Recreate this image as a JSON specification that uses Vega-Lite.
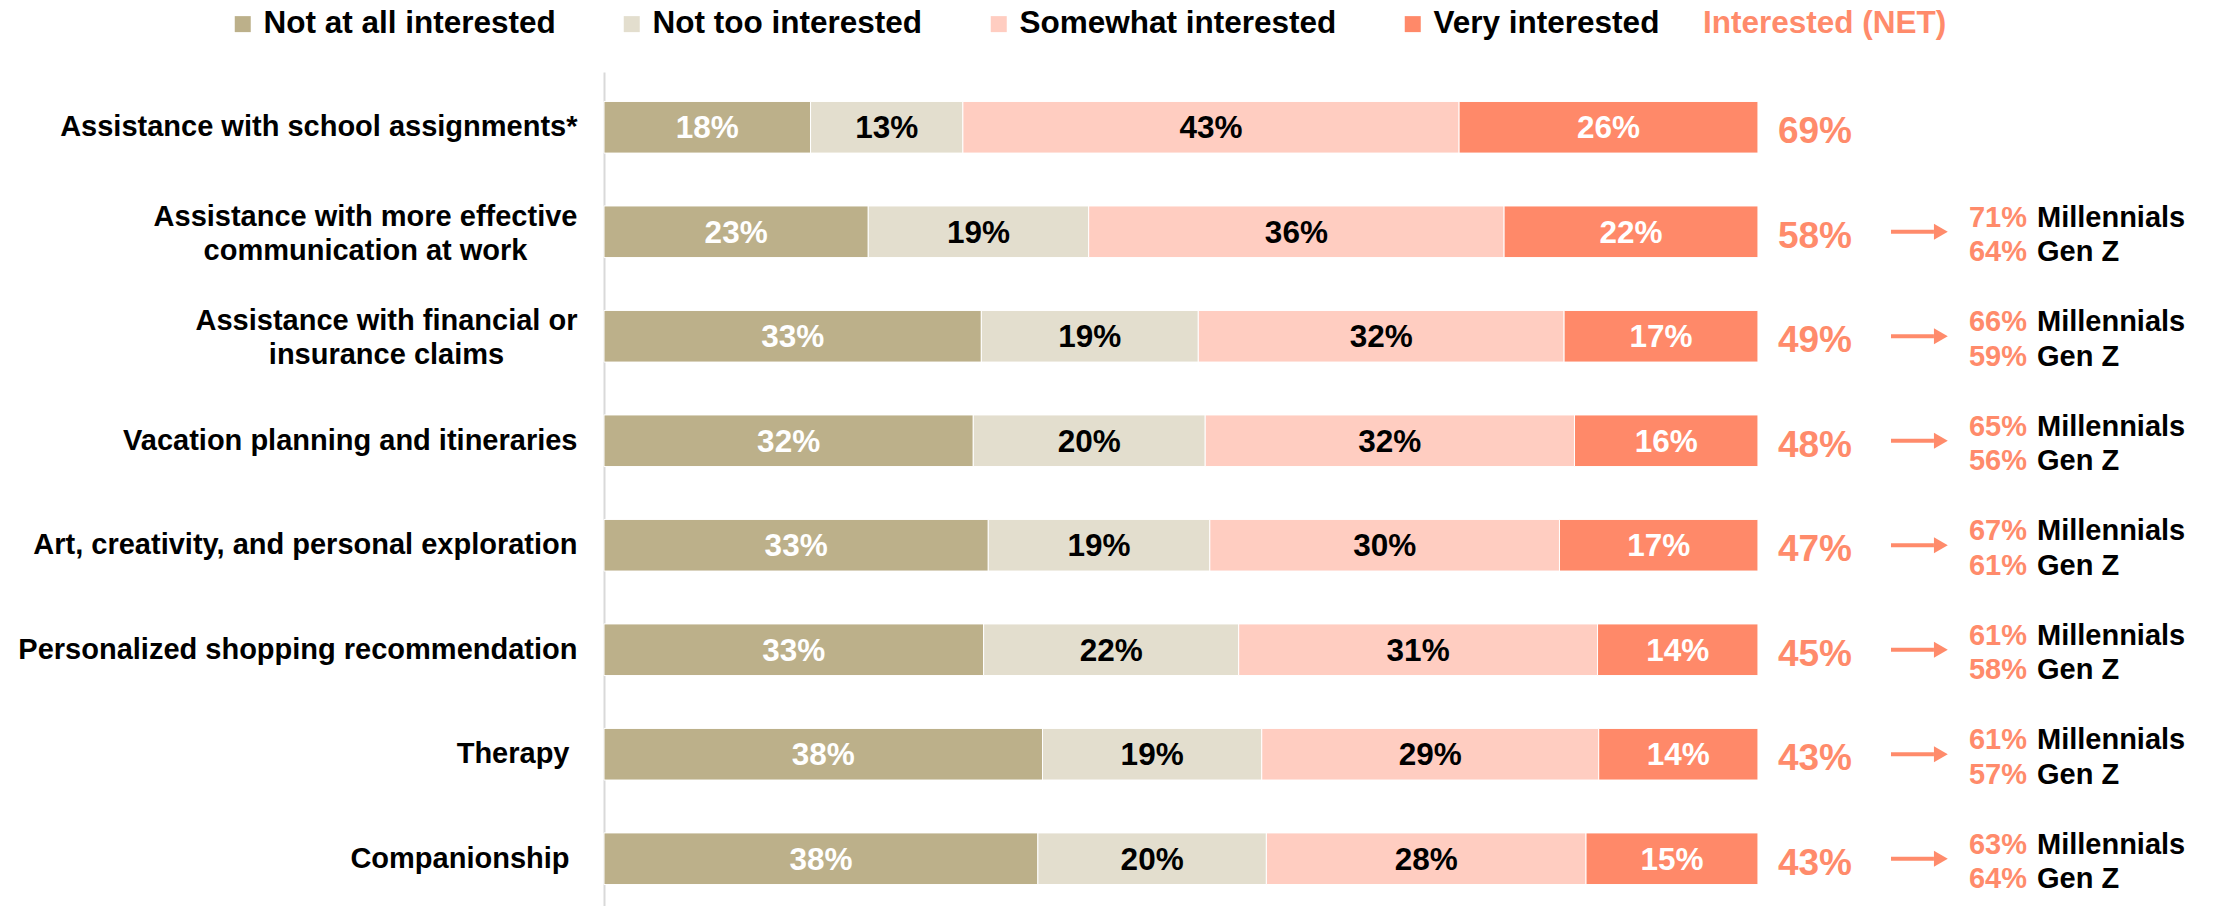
{
  "$schema": "https://vega.github.io/schema/vega-lite/v6.json",
  "width": 1613,
  "height": 842,
  "autosize": {"type": "none"},
  "padding": {"left": 604, "top": 72, "right": 0, "bottom": 0},
  "background": "white",
  "config": {"view": {"stroke": null}, "font": "Liberation Sans"},
  "data": {
    "values": [
      {"item": "Assistance with school assignments*", "Not at all interested": 0.179, "Not too interested": 0.132, "Somewhat interested": 0.43, "Very interested": 0.259, "net": 0.69, "mill": null, "genz": null},
      {"item": "Assistance with more effective|communication at work", "Not at all interested": 0.229, "Not too interested": 0.191, "Somewhat interested": 0.36, "Very interested": 0.22, "net": 0.58, "mill": 0.71, "genz": 0.64},
      {"item": "Assistance with financial or|insurance claims", "Not at all interested": 0.327, "Not too interested": 0.188, "Somewhat interested": 0.317, "Very interested": 0.168, "net": 0.49, "mill": 0.66, "genz": 0.59},
      {"item": "Vacation planning and itineraries", "Not at all interested": 0.32, "Not too interested": 0.201, "Somewhat interested": 0.32, "Very interested": 0.159, "net": 0.48, "mill": 0.65, "genz": 0.56},
      {"item": "Art, creativity, and personal exploration", "Not at all interested": 0.333, "Not too interested": 0.192, "Somewhat interested": 0.303, "Very interested": 0.172, "net": 0.47, "mill": 0.67, "genz": 0.61},
      {"item": "Personalized shopping recommendation", "Not at all interested": 0.329, "Not too interested": 0.221, "Somewhat interested": 0.311, "Very interested": 0.139, "net": 0.45, "mill": 0.61, "genz": 0.58},
      {"item": "Therapy", "Not at all interested": 0.38, "Not too interested": 0.19, "Somewhat interested": 0.292, "Very interested": 0.138, "net": 0.43, "mill": 0.61, "genz": 0.57},
      {"item": "Companionship", "Not at all interested": 0.376, "Not too interested": 0.198, "Somewhat interested": 0.277, "Very interested": 0.149, "net": 0.43, "mill": 0.63, "genz": 0.64}
    ]
  },
  "encoding": {
    "y": {
      "field": "item",
      "type": "nominal",
      "sort": null,
      "scale": {"paddingInner": 0.506, "paddingOuter": 0.282},
      "axis": {
        "title": null,
        "ticks": false,
        "domainColor": "#D9D9D9",
        "domainWidth": 2,
        "labelFont": "Liberation Sans",
        "labelFontSize": 29,
        "labelFontWeight": "bold",
        "labelColor": "black",
        "labelLimit": 0,
        "labelLineHeight": 34,
        "labelExpr": "split(datum.label, '|')",
        "labelAlign": {"condition": {"test": "indexof(datum.value, '|') >= 0", "value": "center"}, "value": "right"},
        "labelOffset": {"condition": {"test": "indexof(datum.value, '|') >= 0", "value": -15}, "value": 0},
        "labelPadding": {"condition": [
          {"test": "indexof(datum.value, 'effective') >= 0", "value": 239},
          {"test": "indexof(datum.value, 'financial') >= 0", "value": 218},
          {"test": "datum.value === 'Therapy' || datum.value === 'Companionship'", "value": 35}
        ], "value": 27}
      }
    }
  },
  "layer": [
    {
      "transform": [
        {"fold": ["Not at all interested", "Not too interested", "Somewhat interested", "Very interested"], "as": ["level", "value"]},
        {"stack": "value", "groupby": ["item"], "sort": [{"field": "level", "order": "ascending"}], "as": ["x0", "x1"]}
      ],
      "mark": {"type": "bar", "stroke": "white", "strokeWidth": 1},
      "encoding": {
        "x": {"field": "x0", "type": "quantitative", "scale": {"domain": [0, 1.3978], "nice": false, "zero": true}, "axis": null},
        "x2": {"field": "x1"},
        "color": {
          "field": "level",
          "type": "nominal",
          "scale": {"domain": ["Not at all interested", "Not too interested", "Somewhat interested", "Very interested"], "range": ["#BCB08A", "#E3DECE", "#FFCDC1", "#FF8969"]},
          "legend": {
            "orient": "none",
            "legendX": -377,
            "legendY": -64,
            "direction": "horizontal",
            "title": "Interested (NET)",
            "titleOrient": "right",
            "titleColor": "#FF8B6B",
            "titleFont": "Liberation Sans",
            "titleFontSize": 31.5,
            "titleFontWeight": "bold",
            "titlePadding": 44,
            "titleLimit": 600,
            "symbolType": "square",
            "symbolSize": 256,
            "symbolStrokeWidth": 0,
            "symbolOpacity": 1,
            "labelFont": "Liberation Sans",
            "labelFontSize": 31.5,
            "labelFontWeight": "bold",
            "labelColor": "black",
            "labelOffset": 5,
            "labelLimit": 0,
            "columnPadding": 60,
            "padding": 0,
            "offset": 0
          }
        }
      }
    },
    {
      "transform": [
        {"fold": ["Not at all interested", "Not too interested", "Somewhat interested", "Very interested"], "as": ["level", "value"]},
        {"stack": "value", "groupby": ["item"], "sort": [{"field": "level", "order": "ascending"}], "as": ["x0", "x1"]},
        {"calculate": "(datum.x0 + datum.x1) / 2", "as": "mid"}
      ],
      "mark": {"type": "text", "font": "Liberation Sans", "fontSize": 31.5, "fontWeight": "bold", "align": "center", "baseline": "middle", "dy": 2},
      "encoding": {
        "x": {"field": "mid", "type": "quantitative"},
        "text": {"field": "value", "type": "quantitative", "format": ".0%"},
        "color": {"condition": {"test": "datum.level === 'Not at all interested' || datum.level === 'Very interested'", "value": "white"}, "value": "black"}
      }
    },
    {
      "mark": {"type": "text", "font": "Liberation Sans", "fontSize": 37, "fontWeight": "bold", "align": "left", "baseline": "middle", "dy": 5, "color": "#FF8B6B"},
      "encoding": {
        "x": {"datum": 1.0173, "type": "quantitative"},
        "text": {"field": "net", "type": "quantitative", "format": ".0%"}
      }
    },
    {
      "transform": [{"filter": "datum.mill != null"}],
      "mark": {"type": "rule", "strokeWidth": 4, "color": "#FF8B6B"},
      "encoding": {
        "x": {"datum": 1.1153, "type": "quantitative"},
        "x2": {"datum": 1.1525}
      }
    },
    {
      "transform": [{"filter": "datum.mill != null"}],
      "mark": {"type": "point", "shape": "triangle-right", "size": 256, "filled": true, "opacity": 1, "color": "#FF8B6B"},
      "encoding": {
        "x": {"datum": 1.1585, "type": "quantitative"}
      }
    },
    {
      "transform": [{"filter": "datum.mill != null"}],
      "mark": {"type": "text", "font": "Liberation Sans", "fontSize": 29, "fontWeight": "bold", "align": "left", "baseline": "middle", "dy": -14, "color": "#FF8B6B"},
      "encoding": {
        "x": {"datum": 1.1828, "type": "quantitative"},
        "text": {"field": "mill", "type": "quantitative", "format": ".0%"}
      }
    },
    {
      "transform": [{"filter": "datum.mill != null"}],
      "mark": {"type": "text", "font": "Liberation Sans", "fontSize": 29, "fontWeight": "bold", "align": "left", "baseline": "middle", "dy": -14, "color": "black"},
      "encoding": {
        "x": {"datum": 1.2418, "type": "quantitative"},
        "text": {"value": "Millennials"}
      }
    },
    {
      "transform": [{"filter": "datum.genz != null"}],
      "mark": {"type": "text", "font": "Liberation Sans", "fontSize": 29, "fontWeight": "bold", "align": "left", "baseline": "middle", "dy": 20.5, "color": "#FF8B6B"},
      "encoding": {
        "x": {"datum": 1.1828, "type": "quantitative"},
        "text": {"field": "genz", "type": "quantitative", "format": ".0%"}
      }
    },
    {
      "transform": [{"filter": "datum.genz != null"}],
      "mark": {"type": "text", "font": "Liberation Sans", "fontSize": 29, "fontWeight": "bold", "align": "left", "baseline": "middle", "dy": 20.5, "color": "black"},
      "encoding": {
        "x": {"datum": 1.2418, "type": "quantitative"},
        "text": {"value": "Gen Z"}
      }
    }
  ]
}
